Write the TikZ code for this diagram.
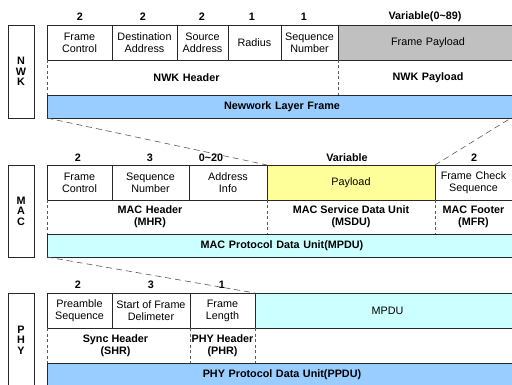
\documentclass[tikz,border=0pt]{standalone}
\usepackage{fontspec}
\setmainfont{Liberation Sans}
\definecolor{linec}{RGB}{40,40,40}
\definecolor{dashc}{RGB}{90,90,90}
\definecolor{payloadgray}{RGB}{192,192,192}
\definecolor{barblue}{RGB}{153,204,255}
\definecolor{barcyan}{RGB}{204,255,255}
\definecolor{payyellow}{RGB}{255,255,153}
\newcommand\cellfont{\fontsize{10.8}{12}\selectfont}
\begin{document}
\begin{tikzpicture}[x=1pt,y=-1pt,
  box/.style={inner sep=0pt, outer sep=0pt, anchor=north west, align=center, font=\cellfont},
  cell/.style={box, draw=linec, line width=0.8pt},
  hdr/.style={box, font=\cellfont\bfseries},
  bar/.style={box, draw=linec, line width=0.8pt, font=\cellfont\bfseries},
  side/.style={box, draw=linec, line width=0.8pt, minimum width=26pt, font=\cellfont\bfseries},
  num/.style={inner sep=0pt, font=\cellfont\bfseries},
  sep/.style={draw=dashc, line width=0.6pt, dash pattern=on 3pt off 2.5pt},
  link/.style={draw=dashc, line width=0.6pt, dash pattern=on 6pt off 4pt}]
\path[use as bounding box, clip] (0,0) rectangle (512,385);
\fill[white] (0,0) rectangle (512,385);

% ---------------- NWK layer ----------------
\node[side, minimum height=93pt] (nwkside) at (8,25) {N\\[-1.5pt]W\\[-1.5pt]K};
\node[cell, minimum width=65pt, minimum height=35pt] (nfc) at (47,25) {Frame\\Control};
\node[cell, minimum width=65pt, minimum height=35pt] (nda) at (112,25) {Destination\\Address};
\node[cell, minimum width=51pt, minimum height=35pt] (nsa) at (177,25) {Source\\Address};
\node[cell, minimum width=53pt, minimum height=35pt] (nra) at (228,25) {Radius};
\node[cell, minimum width=57pt, minimum height=35pt] (nsn) at (281,25) {Sequence\\Number};
\node[cell, fill=payloadgray, minimum width=180pt, minimum height=35pt, text width=173pt] (npl) at (338,25) {Frame Payload};
\node[hdr, minimum width=291pt, minimum height=35pt, text width=278pt] (nhdr) at (47,60) {\hspace*{-12pt}NWK Header};
\node[hdr, minimum width=180pt, minimum height=35pt, text width=173pt] (npay) at (338,60) {NWK Payload};
\node[bar, fill=barblue, minimum width=470pt, minimum height=23pt, text width=464pt] (nbar) at (47,95) {Newwork Layer Frame};
\coordinate (nend) at (511,118);
\path[sep] (nhdr.north west) -- (nhdr.south west);
\path[sep] (npay.north west) -- (npay.south west);

\node[num] (nn1) at (80,17) {2};
\node[num] (nn2) at (143,17) {2};
\node[num] (nn3) at (202,17) {2};
\node[num] (nn4) at (252,17) {1};
\node[num] (nn5) at (304,17) {1};
\node[num] (nn6) at (425,17) {Variable(0\textasciitilde89)};

% ---------------- MAC layer ----------------
\node[side, minimum height=92pt] (macside) at (8,165) {M\\[-1.5pt]A\\[-1.5pt]C};
\node[cell, minimum width=65pt, minimum height=35pt] (mfc) at (47,165) {Frame\\Control};
\node[cell, minimum width=77pt, minimum height=35pt] (msn) at (112,165) {Sequence\\Number};
\node[cell, minimum width=78pt, minimum height=35pt] (mai) at (189,165) {Address\\Info};
\node[cell, fill=payyellow, minimum width=168pt, minimum height=35pt] (mpl) at (267,165) {Payload};
\node[cell, minimum width=85pt, minimum height=35pt, text width=80pt] (mfcs) at (435,165) {\hspace*{-8pt}Frame Check\\\hspace*{-8pt}Sequence};
\node[hdr, minimum width=220pt, minimum height=34pt, text width=206pt] (mhdr) at (47,200) {\hspace*{-14pt}MAC Header\\\hspace*{-14pt}(MHR)};
\node[hdr, minimum width=168pt, minimum height=34pt] (msdu) at (267,200) {MAC Service Data Unit\\(MSDU)};
\node[hdr, minimum width=85pt, minimum height=34pt, text width=80pt] (mftr) at (435,200) {\hspace*{-8pt}MAC Footer\\\hspace*{-8pt}(MFR)};
\node[bar, fill=barcyan, minimum width=470pt, minimum height=23pt, text width=464pt] (mbar) at (47,234) {MAC Protocol Data Unit(MPDU)};
\path[sep] (mhdr.north west) -- (mhdr.south west);
\path[sep] (msdu.north west) -- (msdu.south west);
\path[sep] (mftr.north west) -- (mftr.south west);

\node[num] (mn1) at (78,158) {2};
\node[num] (mn2) at (150,158) {3};
\node[num] (mn3) at (211,158) {0\textasciitilde20};
\node[num] (mn4) at (347,158) {Variable};
\node[num] (mn5) at (474,158) {2};

% NWK frame carried as the MAC payload
\path[link] (nbar.south west) -- (mpl.north west);
\path[link] (mpl.north east) -- (nend);

% ---------------- PHY layer ----------------
\node[side, minimum height=94pt] (physide) at (8,293) {P\\[-1.5pt]H\\[-1.5pt]Y};
\node[cell, minimum width=65pt, minimum height=35pt] (ppre) at (47,293) {Preamble\\Sequence};
\node[cell, minimum width=78pt, minimum height=35pt] (psfd) at (112,293) {Start of Frame\\Delimeter};
\node[cell, minimum width=65pt, minimum height=35pt] (pfl) at (190,293) {Frame\\Length};
\node[cell, fill=barcyan, minimum width=265pt, minimum height=35pt, text width=258pt] (pmpdu) at (255,293) {MPDU};
\node[hdr, minimum width=143pt, minimum height=35pt] (pshr) at (47,328) {\hspace*{-6pt}Sync Header\\\hspace*{-6pt}(SHR)};
\node[hdr, minimum width=65pt, minimum height=35pt] (pphr) at (190,328) {PHY Header\\(PHR)};
\node[hdr, minimum width=265pt, minimum height=35pt] (prest) at (255,328) {};
\node[bar, fill=barblue, minimum width=470pt, minimum height=24pt, text width=464pt] (pbar) at (47,363) {PHY Protocol Data Unit(PPDU)};
\path[sep] (pshr.north west) -- (pshr.south west);
\path[sep] (pphr.north west) -- (pphr.south west);
\path[sep] (prest.north west) -- (prest.south west);

\node[num] (pn1) at (78,285) {2};
\node[num] (pn2) at (151,285) {3};
\node[num] (pn3) at (222,285) {1};

% MAC frame carried as the PHY payload
\path[link] (mbar.south west) -- (pfl.north east);
\end{tikzpicture}
\end{document}
